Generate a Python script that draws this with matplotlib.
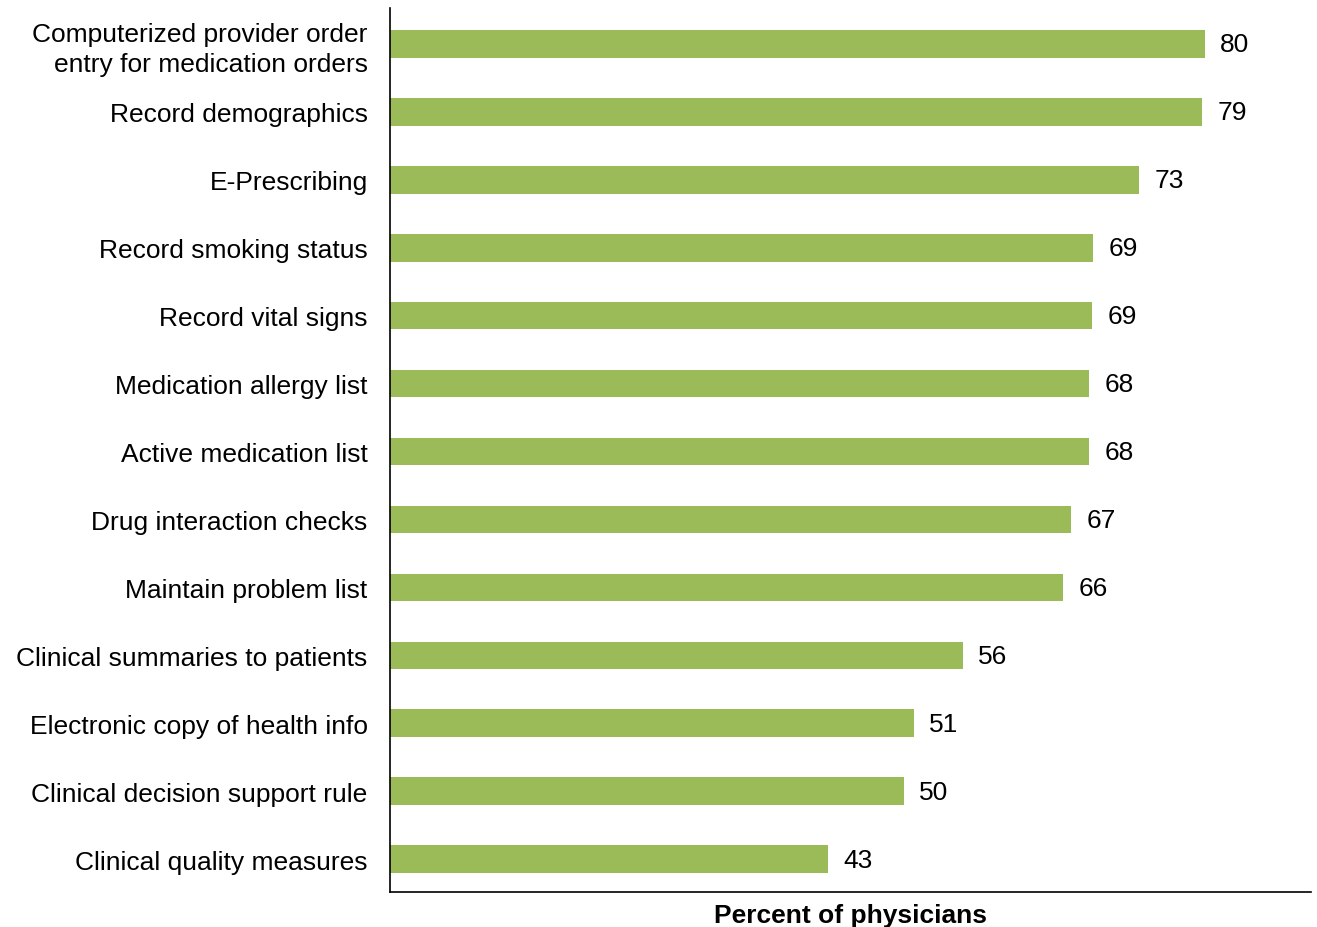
import matplotlib
matplotlib.use("Agg")
import matplotlib.pyplot as plt

plt.rcParams["font.family"] = ["Liberation Sans", "DejaVu Sans"]

# categories, top to bottom
categories = [
    "Computerized provider order\nentry for medication orders",
    "Record demographics",
    "E-Prescribing",
    "Record smoking status",
    "Record vital signs",
    "Medication allergy list",
    "Active medication list",
    "Drug interaction checks",
    "Maintain problem list",
    "Clinical summaries to patients",
    "Electronic copy of health info",
    "Clinical decision support rule",
    "Clinical quality measures",
]

# bar lengths (percent of physicians)
values = [79.6, 79.4, 73.2, 68.7, 68.6, 68.3, 68.3, 66.6, 65.8, 56.0, 51.2, 50.2, 42.8]
# labels printed at the bar ends
value_labels = ["80", "79", "73", "69", "69", "68", "68", "67", "66", "56", "51", "50", "43"]

bar_color = "#9BBB59"

fig = plt.figure(figsize=(13.17, 9.28), dpi=100)
ax = fig.add_axes([0.2961, 0.0377, 0.6993, 0.9523])

ypos = list(range(len(categories)))[::-1]
ax.barh(ypos, values, height=0.41, color=bar_color)

for y, v, lab in zip(ypos, values, value_labels):
    ax.text(v + 1.5, y - 0.01, lab, va="center", ha="left", fontsize=19)

ax.set_yticks(ypos)
ax.set_yticklabels(categories, fontsize=19, linespacing=1.3)
ax.tick_params(axis="y", length=0, pad=16)
ax.set_xticks([])
ax.set_xlim(0, 90)
ax.set_ylim(-0.48, len(categories) - 0.48)

for side in ["top", "right"]:
    ax.spines[side].set_visible(False)
for side in ["left", "bottom"]:
    ax.spines[side].set_color("black")
    ax.spines[side].set_linewidth(1.2)

ax.set_xlabel("Percent of physicians", fontsize=19, fontweight="bold", labelpad=8)

fig.savefig("out.png", dpi=100)
